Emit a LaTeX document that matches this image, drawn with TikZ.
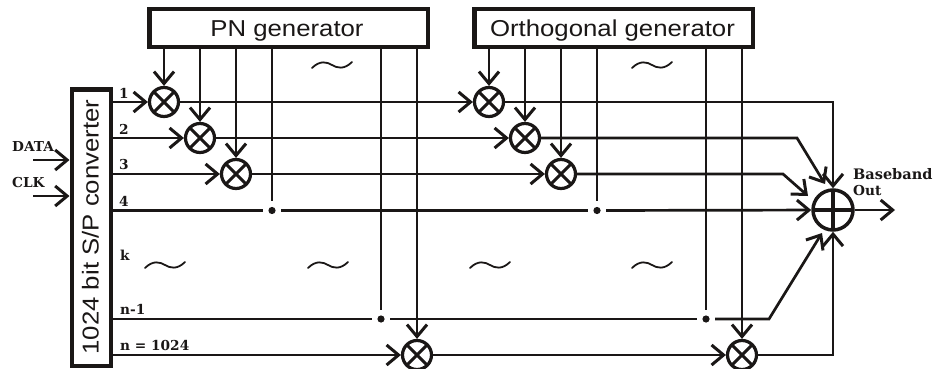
\documentclass[tikz,border=0pt]{standalone}
\usepackage{fontspec}
\usepackage{graphicx}
\setmainfont{Liberation Sans}
\newfontfamily\labfont{DejaVu Serif}
\usetikzlibrary{arrows.meta}
\definecolor{ink}{HTML}{1A1716}
\tikzset{
  x=1pt,y=-1pt,
  wire/.style={draw=ink,line width=2.7pt},
  tipwire/.style={wire,-{Straight Barb[length=12pt,width=20pt,line width=3pt]}},
  genbox/.style={rectangle,draw=ink,line width=4.5pt,fill=white,inner sep=0pt},
  mult/.style={circle,draw=ink,line width=3.2pt,fill=white,minimum size=29pt,inner sep=0pt,
    path picture={\draw[ink,line width=3pt] ([shift={(-10pt,-10pt)}]path picture bounding box.center) -- ([shift={(10pt,10pt)}]path picture bounding box.center)
      ([shift={(-10pt,10pt)}]path picture bounding box.center) -- ([shift={(10pt,-10pt)}]path picture bounding box.center);}},
  sumnode/.style={circle,draw=ink,line width=3.5pt,fill=white,minimum size=40pt,inner sep=0pt,
    path picture={\draw[ink,line width=4pt] ([shift={(-18pt,0pt)}]path picture bounding box.center) -- ([shift={(18pt,0pt)}]path picture bounding box.center)
      ([shift={(0pt,-18pt)}]path picture bounding box.center) -- ([shift={(0pt,18pt)}]path picture bounding box.center);}},
  junction/.style={circle,minimum size=18pt,inner sep=0pt,
    path picture={\fill[ink] (path picture bounding box.center) circle (3.6pt);}},
  big/.style={font=\fontsize{23}{23}\selectfont,text=ink,inner sep=0pt},
  lab/.style={font=\labfont\bfseries\fontsize{13.7}{15}\selectfont,text=ink,inner sep=0pt},
  tilde/.style={draw=ink,line width=1.8pt,line cap=round},
}
\newcommand{\widetext}[1]{\scalebox{1.12}[1]{#1}}
\begin{document}
\begin{tikzpicture}
\useasboundingbox (0,0) rectangle (937,369);
% boxes
\node[genbox,minimum width=278.5pt,minimum height=38pt,anchor=north west] (pn) at (147,7) {};
\node[big] (pntxt) at (287,31) {\widetext{PN generator}};
\node[genbox,minimum width=278.5pt,minimum height=38pt,anchor=north west] (og) at (472,7) {};
\node[big] (ogtxt) at (612.5,31) {\widetext{Orthogonal generator}};
\node[genbox,minimum width=39pt,minimum height=276.5pt,anchor=north west] (sp) at (69.5,87) {};
\node[big,rotate=90] (sptxt) at (90.5,227) {\widetext{1024 bit S/P converter}};
% multipliers
\node[mult] (a1) at (164,102) {};
\node[mult] (a2) at (200,138) {};
\node[mult] (a3) at (236,174) {};
\node[mult] (an) at (417,355) {};
\node[mult] (b1) at (489,102) {};
\node[mult] (b2) at (525,138) {};
\node[mult] (b3) at (561,174) {};
\node[mult] (bn) at (742,355) {};
\node[sumnode] (sum) at (833,210) {};
% junctions
\node[junction] (ja4) at (272,210.5) {};
\node[junction] (ja9) at (381,319) {};
\node[junction] (jb4) at (597,210.5) {};
\node[junction] (jb9) at (706,319) {};
% free ends
\coordinate (s1) at (sp.east |- a1);
\coordinate (s2) at (sp.east |- a2);
\coordinate (s3) at (sp.east |- a3);
\coordinate (s4) at (sp.east |- ja4);
\coordinate (s9) at (sp.east |- ja9);
\coordinate (sn) at (sp.east |- an);
\coordinate (p1) at (a1 |- pn.south);
\coordinate (p2) at (a2 |- pn.south);
\coordinate (p3) at (a3 |- pn.south);
\coordinate (p4) at (ja4 |- pn.south);
\coordinate (p9) at (ja9 |- pn.south);
\coordinate (pm) at (an |- pn.south);
\coordinate (q1) at (b1 |- og.south);
\coordinate (q2) at (b2 |- og.south);
\coordinate (q3) at (b3 |- og.south);
\coordinate (q4) at (jb4 |- og.south);
\coordinate (q9) at (jb9 |- og.south);
\coordinate (qm) at (bn |- og.south);
\coordinate (c1) at (833,102);
\coordinate (c2) at (797,138);
\coordinate (t2) at (825,184);
\coordinate (c3) at (783,174);
\coordinate (t3) at (808,196);
\coordinate (c9) at (769,319);
\coordinate (t9) at (822,233);
\coordinate (cn) at (833,355);
\coordinate (d1) at (33,160);
\coordinate (d2) at (33,196);
\coordinate (e1) at (sp.west |- d1);
\coordinate (e2) at (sp.west |- d2);
\coordinate (o1) at (895,210);
% long verticals
\draw[wire] (p4) -- (ja4);
\draw[wire] (p9) -- (ja9);
\draw[wire] (q4) -- (jb4);
\draw[wire] (q9) -- (jb9);
\draw[tipwire] (pm) -- (an);
\draw[tipwire] (qm) -- (bn);
\draw[tipwire] (p1) -- (a1);
\draw[tipwire] (p2) -- (a2);
\draw[tipwire] (p3) -- (a3);
\draw[tipwire] (q1) -- (b1);
\draw[tipwire] (q2) -- (b2);
\draw[tipwire] (q3) -- (b3);
% horizontals
\draw[tipwire] (s1) -- (a1);
\draw[tipwire] (s2) -- (a2);
\draw[tipwire] (s3) -- (a3);
\draw[tipwire] (a1) -- (b1);
\draw[tipwire] (a2) -- (b2);
\draw[tipwire] (a3) -- (b3);
\draw[wire] (s4) -- (ja4);
\draw[wire] (ja4) -- (jb4);
\draw[tipwire] (jb4) -- (sum);
\draw[wire] (s9) -- (ja9);
\draw[wire] (ja9) -- (jb9);
\draw[tipwire] (sn) -- (an);
\draw[tipwire] (an) -- (bn);
\draw[tipwire] (b1) -- (c1) -- (sum);
\draw[tipwire] (b2) -- (c2) -- (t2);
\draw[tipwire] (b3) -- (c3) -- (t3);
\draw[tipwire] (jb9) -- (c9) -- (t9);
\draw[tipwire] (bn) -- (cn) -- (sum);
\draw[tipwire] (sum) -- (o1);
\draw[tipwire] (d1) -- (e1);
\draw[tipwire] (d2) -- (e2);
% labels
\node[lab,anchor=west] (l1) at (119,93) {1};
\node[lab,anchor=west] (l2) at (119,129) {2};
\node[lab,anchor=west] (l3) at (119,165) {3};
\node[lab,anchor=west] (l4) at (119,201) {4};
\node[lab,anchor=west] (lk) at (120,255) {k};
\node[lab,anchor=west] (l9) at (120,309) {n-1};
\node[lab,anchor=west] (ln) at (120,346) {n = 1024};
\node[lab,anchor=west] (ld) at (12,147) {DATA};
\node[lab,anchor=west] (lc) at (12,183) {CLK};
\node[lab,anchor=west,font=\labfont\bfseries\fontsize{14.5}{15}\selectfont] (lb) at (853,174) {Baseband};
\node[lab,anchor=west] (lo) at (853,191) {Out};
% tildes
\foreach \tx/\ty in {332/65,652/65,165/265,328/265,490/265,652/265}
  \draw[tilde] (\tx-20,\ty+3) .. controls (\tx-12,\ty-5) and (\tx-5,\ty-3) .. (\tx,\ty) .. controls (\tx+5,\ty+3) and (\tx+12,\ty+5) .. (\tx+20,\ty-3);
\end{tikzpicture}
\end{document}
